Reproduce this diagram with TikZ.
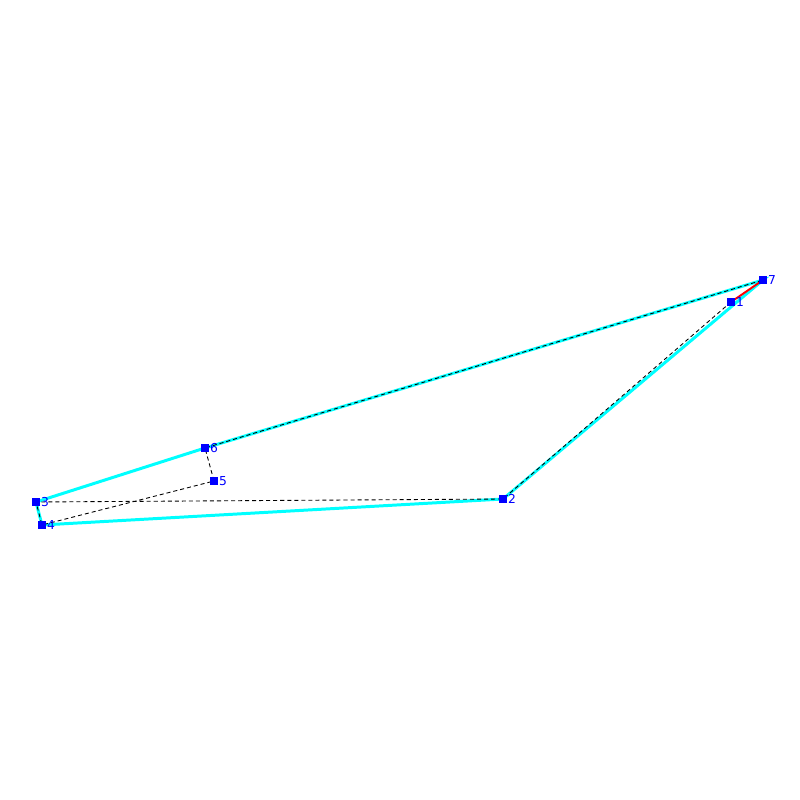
\documentclass[tikz,border=0pt]{standalone}
\usepackage{fontspec}
\setsansfont{DejaVu Sans}
\usetikzlibrary{backgrounds}
\definecolor{tocka}{RGB}{0,0,255}
\definecolor{obris}{RGB}{0,255,255}
\tikzset{
	slika/.style={x=0.02cm, y=-0.02cm, font=\sffamily\fontsize{7pt}{8pt}\selectfont},
	vrh/.style={draw=none, fill=tocka, minimum size=1.6mm, inner sep=0pt},
	stevilka/.style={text=tocka, inner sep=0.3pt, anchor=west},
	rob/.style={draw=obris, line width=1.7pt},
	pomoc/.style={draw=black, line width=0.5pt, dash pattern=on 2.3pt off 1.7pt},
	izbran/.style={draw=red, line width=1.1pt},
}
\begin{document}
\begin{tikzpicture}[slika]
\useasboundingbox (0,0) rectangle (800,800);

\node[vrh, label={[stevilka]right:1}] (v1) at (731,302) {};
\node[vrh, label={[stevilka]right:2}] (v2) at (503,499) {};
\node[vrh, label={[stevilka]right:3}] (v3) at (36,502) {};
\node[vrh, label={[stevilka]right:4}] (v4) at (42,525) {};
\node[vrh, label={[stevilka]right:5}] (v5) at (214,481) {};
\node[vrh, label={[stevilka]right:6}] (v6) at (205,448) {};
\node[vrh, label={[stevilka]right:7}] (v7) at (763,280) {};

\begin{scope}[on background layer]
\draw[rob] (v3.center) -- (v6.center) -- (v7.center) -- (v2.center) -- (v4.center) -- cycle;
\draw[izbran] (v1.center) -- (v7.center);
\draw[pomoc] (v1.center) -- (v2.center) -- (v3.center) -- (v4.center) -- (v5.center)
    -- (v6.center) -- (v7.center);
\end{scope}

\end{tikzpicture}
\end{document}
